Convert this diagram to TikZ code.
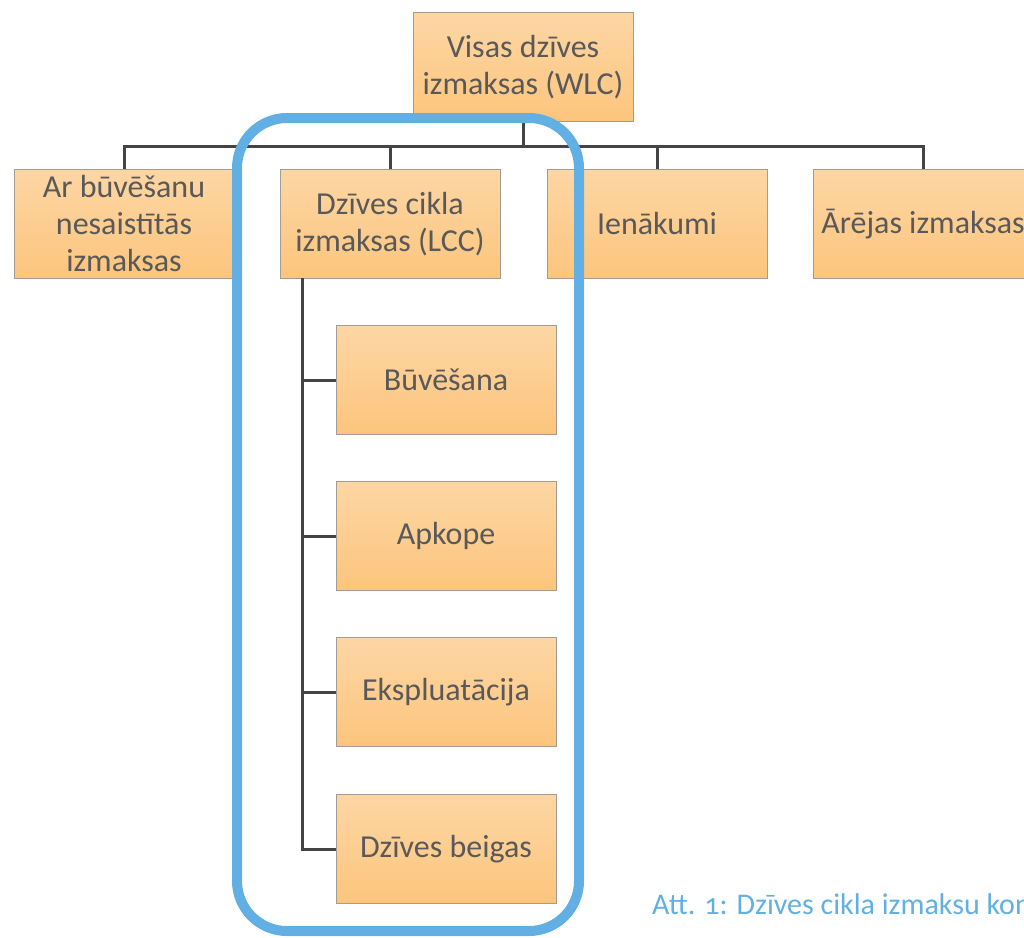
\documentclass[tikz,border=0pt]{standalone}
\usepackage{fontspec}
\setmainfont{Carlito}
\usepackage{tikz}
\usetikzlibrary{positioning}

\definecolor{boxtext}{HTML}{595959}
\definecolor{boxtop}{HTML}{FDD6A4}
\definecolor{boxbottom}{HTML}{FCC57D}
\definecolor{boxline}{HTML}{A39C93}
\definecolor{connline}{HTML}{444444}
\definecolor{frameblue}{HTML}{62B0E3}

\tikzset{
  costbox/.style={rectangle, draw=boxline, line width=1pt, top color=boxtop, bottom color=boxbottom,
    minimum width=220pt, minimum height=109pt, inner sep=2pt, align=center, text=boxtext,
    font=\fontsize{32}{37}\selectfont},
  conn/.style={draw=connline, line width=3pt}
}

\begin{document}
\begin{tikzpicture}[x=1pt, y=-1pt]
        \useasboundingbox (0,0) rectangle (1024,937);
        \clip (0,0) rectangle (1024,937);

        % Top
        \node[costbox] (wlc) at (523,67) {Visas dzīves\\izmaksas (WLC)};

        % Second row
        \node[costbox] (nonbuild) at (124,224) {Ar būvēšanu\\nesaistītās\\izmaksas};
        \node[costbox] (lcc) at (390,224) {Dzīves cikla\\izmaksas (LCC)};
        \node[costbox] (income) at (657,224) {Ienākumi};
        \node[costbox] (external) at (923,224) {Ārējas izmaksas};

        % LCC parts
        \node[costbox] (build) at (446,380) {Būvēšana};
        \node[costbox] (maint) at (446,536) {Apkope};
        \node[costbox] (oper) at (446,692) {Ekspluatācija};
        \node[costbox] (eol) at (446,849) {Dzīves beigas};

        % Connectors
        \coordinate (bus) at (523,146);
        \coordinate (trunk) at (302,278);
        \draw[conn] (wlc.south) -- (bus);
        \foreach \n in {nonbuild,lcc,income,external}
          \draw[conn] (bus) -| (\n.north);
        \foreach \n in {build,maint,oper,eol}
          \draw[conn] (trunk) |- (\n.west);

        % Highlight
        \draw[frameblue, line width=10pt, rounded corners=50pt] (237,118) rectangle (579,931);

        % Caption
        \node[anchor=base west, inner sep=0pt, text=frameblue, font=\fontsize{30}{34}\selectfont\addfontfeatures{Numbers=OldStyle}]
          (caption) at (652,914) {Att. 1: Dzīves cikla izmaksu kon};
\end{tikzpicture}
\end{document}
